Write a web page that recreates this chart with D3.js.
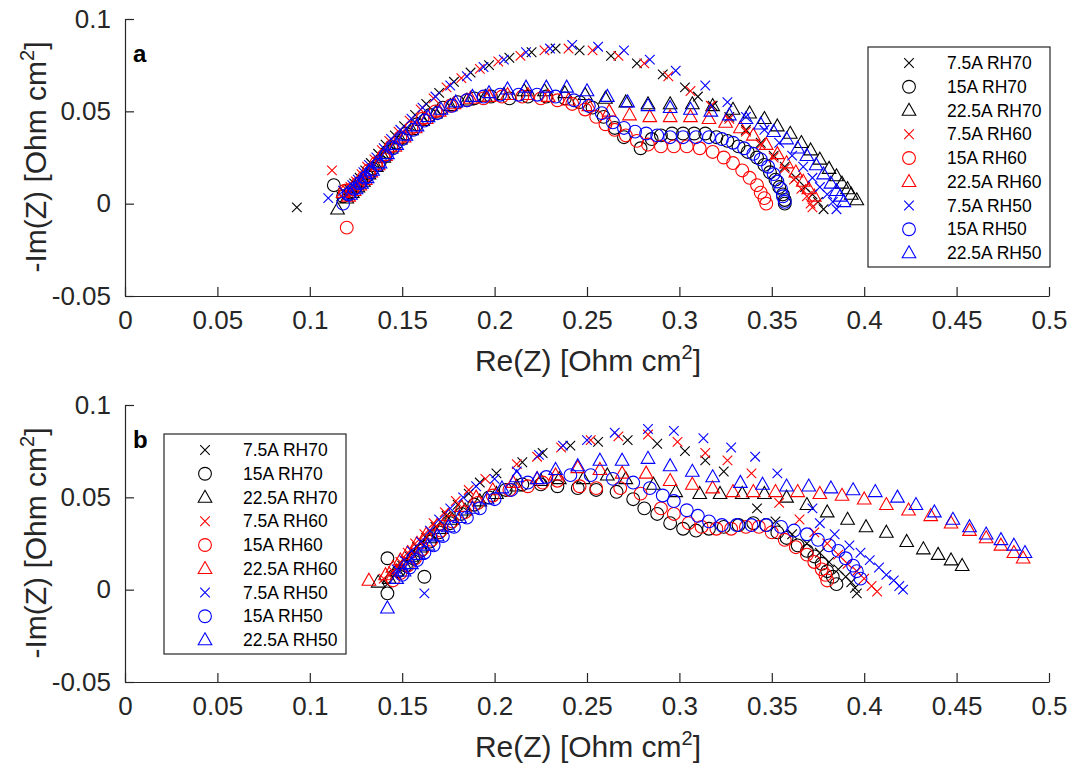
<!DOCTYPE html>
<html>
<head>
<meta charset="utf-8">
<script src="https://cdn.jsdelivr.net/npm/d3@7"></script>
<style>
  body { margin: 0; background: #fff; }
  text { font-family: "Liberation Sans", Arial, sans-serif; fill: #262626; }
</style>
</head>
<body>
<svg id="chart" width="1075" height="774"></svg>
<script>
// tick values and labels
const xTicks = [0, 0.05, 0.1, 0.15, 0.2, 0.25, 0.3, 0.35, 0.4, 0.45, 0.5];
const xTickLabels = ["0", "0.05", "0.1", "0.15", "0.2", "0.25", "0.3", "0.35", "0.4", "0.45", "0.5"];
const yTicks = [-0.05, 0, 0.05, 0.1];
const yTickLabels = ["-0.05", "0", "0.05", "0.1"];

// legend
const seriesNames = ["7.5A RH70", "15A RH70", "22.5A RH70", "7.5A RH60", "15A RH60", "22.5A RH60", "7.5A RH50", "15A RH50", "22.5A RH50"];
const seriesColors = ["#000000", "#000000", "#000000", "#ff0000", "#ff0000", "#ff0000", "#0000ff", "#0000ff", "#0000ff"];
const seriesShapes = ["x", "o", "t", "x", "o", "t", "x", "o", "t"];

// panel a : [Re(Z), -Im(Z)]
const aX70 = [[0.093,-0.002],[0.117,0.004],[0.121,0.008],[0.124,0.011],[0.127,0.014],[0.130,0.018],[0.133,0.022],[0.137,0.027],[0.141,0.032],[0.146,0.037],[0.151,0.042],[0.157,0.048],[0.163,0.054],[0.170,0.060],[0.178,0.066],[0.187,0.071],[0.197,0.075],[0.208,0.079],[0.220,0.082],[0.233,0.084],[0.246,0.083],[0.263,0.080],[0.277,0.076],[0.291,0.070],[0.303,0.063],[0.310,0.058],[0.318,0.053],[0.327,0.047],[0.336,0.040],[0.344,0.033],[0.351,0.026],[0.357,0.020],[0.363,0.014],[0.368,0.009],[0.372,0.005],[0.375,0.001],[0.378,-0.003]];
const aO70 = [[0.113,0.010],[0.118,0.004],[0.122,0.006],[0.125,0.009],[0.128,0.012],[0.131,0.015],[0.134,0.019],[0.138,0.023],[0.142,0.028],[0.147,0.033],[0.152,0.038],[0.158,0.043],[0.165,0.048],[0.172,0.052],[0.180,0.055],[0.189,0.057],[0.198,0.058],[0.208,0.057],[0.218,0.058],[0.228,0.058],[0.238,0.057],[0.246,0.055],[0.253,0.052],[0.259,0.047],[0.265,0.041],[0.270,0.036],[0.279,0.030],[0.285,0.035],[0.290,0.037],[0.296,0.038],[0.302,0.038],[0.308,0.038],[0.314,0.038],[0.320,0.036],[0.326,0.034],[0.332,0.031],[0.337,0.028],[0.342,0.025],[0.346,0.021],[0.349,0.017],[0.352,0.013],[0.354,0.009],[0.356,0.005],[0.357,0.002],[0.357,0.000]];
const aT70 = [[0.115,-0.003],[0.120,0.003],[0.123,0.006],[0.126,0.009],[0.129,0.012],[0.132,0.016],[0.136,0.020],[0.140,0.025],[0.144,0.030],[0.149,0.035],[0.155,0.040],[0.161,0.045],[0.168,0.049],[0.176,0.053],[0.185,0.056],[0.195,0.058],[0.205,0.059],[0.216,0.061],[0.227,0.061],[0.238,0.060],[0.249,0.059],[0.260,0.057],[0.271,0.055],[0.283,0.054],[0.295,0.054],[0.307,0.054],[0.318,0.053],[0.329,0.051],[0.338,0.049],[0.346,0.046],[0.353,0.042],[0.360,0.038],[0.366,0.033],[0.371,0.029],[0.376,0.024],[0.381,0.019],[0.385,0.015],[0.388,0.011],[0.391,0.008],[0.393,0.005],[0.396,0.002]];
const aX60 = [[0.112,0.018],[0.119,0.006],[0.122,0.009],[0.125,0.012],[0.128,0.016],[0.131,0.020],[0.135,0.024],[0.139,0.029],[0.143,0.034],[0.148,0.039],[0.154,0.045],[0.160,0.051],[0.167,0.057],[0.174,0.063],[0.182,0.068],[0.192,0.073],[0.202,0.077],[0.214,0.080],[0.227,0.083],[0.240,0.084],[0.253,0.083],[0.267,0.080],[0.281,0.076],[0.294,0.069],[0.306,0.061],[0.317,0.053],[0.327,0.046],[0.336,0.039],[0.344,0.032],[0.351,0.025],[0.357,0.019],[0.362,0.013],[0.366,0.008],[0.369,0.004],[0.371,0.000],[0.372,-0.002]];
const aO60 = [[0.120,-0.013],[0.119,0.007],[0.123,0.008],[0.126,0.011],[0.129,0.014],[0.132,0.018],[0.136,0.022],[0.140,0.026],[0.144,0.031],[0.149,0.036],[0.155,0.041],[0.161,0.046],[0.168,0.050],[0.176,0.053],[0.185,0.056],[0.194,0.057],[0.204,0.058],[0.215,0.058],[0.225,0.057],[0.234,0.056],[0.242,0.054],[0.249,0.051],[0.255,0.047],[0.260,0.043],[0.265,0.040],[0.271,0.037],[0.277,0.034],[0.283,0.032],[0.290,0.031],[0.297,0.031],[0.304,0.031],[0.311,0.030],[0.318,0.028],[0.324,0.025],[0.329,0.022],[0.334,0.018],[0.338,0.014],[0.342,0.010],[0.344,0.006],[0.346,0.003],[0.347,0.000]];
const aT60 = [[0.118,0.006],[0.121,0.004],[0.124,0.007],[0.127,0.010],[0.130,0.013],[0.133,0.017],[0.137,0.021],[0.141,0.026],[0.146,0.031],[0.151,0.036],[0.157,0.041],[0.163,0.046],[0.170,0.050],[0.178,0.054],[0.187,0.057],[0.197,0.058],[0.207,0.059],[0.218,0.059],[0.229,0.058],[0.240,0.056],[0.251,0.053],[0.262,0.050],[0.273,0.048],[0.284,0.047],[0.295,0.047],[0.306,0.047],[0.316,0.046],[0.325,0.044],[0.333,0.041],[0.340,0.037],[0.347,0.032],[0.353,0.027],[0.358,0.022],[0.363,0.017],[0.367,0.012],[0.370,0.008],[0.373,0.004]];
const aX50 = [[0.110,0.003],[0.118,0.007],[0.123,0.010],[0.126,0.013],[0.129,0.017],[0.132,0.021],[0.136,0.025],[0.140,0.030],[0.144,0.035],[0.149,0.040],[0.155,0.046],[0.161,0.052],[0.168,0.058],[0.176,0.064],[0.185,0.069],[0.194,0.074],[0.205,0.078],[0.217,0.082],[0.230,0.084],[0.242,0.086],[0.256,0.085],[0.270,0.083],[0.284,0.078],[0.298,0.072],[0.314,0.064],[0.326,0.055],[0.336,0.047],[0.346,0.040],[0.354,0.033],[0.361,0.026],[0.367,0.020],[0.372,0.014],[0.376,0.009],[0.380,0.005],[0.383,0.001],[0.385,-0.003]];
const aO50 = [[0.118,0.000],[0.121,0.005],[0.124,0.008],[0.127,0.011],[0.130,0.014],[0.133,0.017],[0.137,0.021],[0.141,0.026],[0.145,0.030],[0.150,0.035],[0.156,0.040],[0.162,0.045],[0.169,0.049],[0.177,0.053],[0.185,0.056],[0.194,0.058],[0.203,0.059],[0.213,0.059],[0.223,0.059],[0.233,0.058],[0.243,0.056],[0.251,0.053],[0.258,0.049],[0.264,0.044],[0.270,0.041],[0.276,0.039],[0.282,0.038],[0.288,0.037],[0.295,0.036],[0.302,0.036],[0.309,0.036],[0.316,0.036],[0.323,0.035],[0.329,0.033],[0.335,0.030],[0.340,0.027],[0.344,0.024],[0.348,0.020],[0.351,0.016],[0.353,0.012],[0.355,0.008],[0.356,0.004],[0.357,0.001]];
const aT50 = [[0.122,0.005],[0.125,0.008],[0.128,0.011],[0.131,0.014],[0.134,0.018],[0.138,0.022],[0.142,0.027],[0.147,0.032],[0.152,0.037],[0.158,0.042],[0.164,0.047],[0.171,0.051],[0.179,0.055],[0.188,0.058],[0.197,0.060],[0.207,0.062],[0.217,0.063],[0.228,0.063],[0.239,0.063],[0.250,0.061],[0.261,0.058],[0.272,0.055],[0.283,0.053],[0.295,0.052],[0.306,0.051],[0.317,0.050],[0.327,0.048],[0.336,0.046],[0.344,0.043],[0.351,0.039],[0.358,0.035],[0.364,0.030],[0.369,0.026],[0.374,0.021],[0.378,0.016],[0.382,0.011],[0.385,0.007],[0.387,0.004],[0.389,0.001]];

// panel b
const bX70 = [[0.142,0.003],[0.146,0.008],[0.150,0.013],[0.154,0.018],[0.158,0.023],[0.163,0.028],[0.168,0.034],[0.174,0.040],[0.180,0.046],[0.186,0.052],[0.192,0.058],[0.201,0.063],[0.215,0.069],[0.226,0.074],[0.241,0.078],[0.256,0.080],[0.272,0.081],[0.288,0.079],[0.303,0.075],[0.314,0.070],[0.324,0.064],[0.342,0.044],[0.352,0.037],[0.361,0.030],[0.369,0.025],[0.376,0.020],[0.381,0.015],[0.386,0.011],[0.390,0.007],[0.393,0.004],[0.395,0.001],[0.396,-0.002]];
const bO70 = [[0.142,0.017],[0.142,-0.002],[0.148,0.010],[0.152,0.013],[0.156,0.017],[0.160,0.021],[0.162,0.007],[0.165,0.026],[0.170,0.031],[0.176,0.036],[0.182,0.041],[0.189,0.046],[0.197,0.050],[0.206,0.054],[0.215,0.057],[0.225,0.057],[0.234,0.056],[0.245,0.055],[0.255,0.054],[0.266,0.053],[0.275,0.049],[0.281,0.044],[0.288,0.041],[0.295,0.036],[0.302,0.033],[0.309,0.032],[0.316,0.033],[0.324,0.034],[0.332,0.035],[0.340,0.036],[0.347,0.035],[0.353,0.031],[0.358,0.028],[0.364,0.024],[0.369,0.021],[0.373,0.018],[0.377,0.014],[0.380,0.010],[0.383,0.007],[0.385,0.003]];
const bT70 = [[0.137,0.004],[0.143,0.006],[0.147,0.010],[0.151,0.014],[0.155,0.018],[0.160,0.023],[0.165,0.028],[0.171,0.033],[0.177,0.038],[0.184,0.043],[0.192,0.048],[0.201,0.052],[0.212,0.056],[0.225,0.059],[0.235,0.060],[0.248,0.060],[0.261,0.062],[0.271,0.060],[0.286,0.057],[0.298,0.053],[0.311,0.052],[0.322,0.052],[0.334,0.052],[0.346,0.052],[0.358,0.050],[0.369,0.046],[0.380,0.042],[0.391,0.038],[0.401,0.034],[0.412,0.031],[0.423,0.026],[0.432,0.022],[0.440,0.019],[0.447,0.016],[0.453,0.013]];
const bX60 = [[0.140,0.006],[0.145,0.010],[0.149,0.015],[0.153,0.020],[0.157,0.025],[0.162,0.030],[0.167,0.036],[0.173,0.042],[0.179,0.048],[0.186,0.054],[0.195,0.060],[0.212,0.068],[0.223,0.072],[0.236,0.077],[0.252,0.081],[0.267,0.083],[0.283,0.084],[0.299,0.080],[0.314,0.074],[0.326,0.070],[0.339,0.063],[0.354,0.047],[0.365,0.038],[0.373,0.031],[0.380,0.025],[0.386,0.019],[0.391,0.014],[0.396,0.010],[0.400,0.006],[0.404,0.002],[0.407,-0.001]];
const bO60 = [[0.145,0.005],[0.149,0.009],[0.153,0.013],[0.157,0.017],[0.161,0.022],[0.166,0.027],[0.171,0.032],[0.177,0.037],[0.184,0.042],[0.191,0.047],[0.199,0.051],[0.208,0.054],[0.218,0.056],[0.226,0.058],[0.234,0.059],[0.246,0.056],[0.255,0.055],[0.268,0.055],[0.279,0.052],[0.290,0.044],[0.297,0.041],[0.305,0.036],[0.312,0.034],[0.320,0.033],[0.328,0.033],[0.336,0.034],[0.343,0.034],[0.350,0.031],[0.357,0.027],[0.363,0.023],[0.369,0.019],[0.373,0.015],[0.377,0.011],[0.379,0.008],[0.380,0.005]];
const bT60 = [[0.132,0.005],[0.141,0.008],[0.145,0.012],[0.149,0.016],[0.153,0.020],[0.158,0.025],[0.163,0.030],[0.169,0.035],[0.175,0.040],[0.182,0.045],[0.190,0.050],[0.199,0.054],[0.210,0.058],[0.223,0.060],[0.233,0.062],[0.245,0.066],[0.257,0.065],[0.269,0.063],[0.282,0.063],[0.295,0.059],[0.307,0.057],[0.318,0.055],[0.329,0.053],[0.340,0.053],[0.352,0.053],[0.364,0.053],[0.376,0.052],[0.388,0.051],[0.400,0.049],[0.412,0.046],[0.424,0.043],[0.436,0.040],[0.447,0.036],[0.457,0.032],[0.466,0.028],[0.474,0.024],[0.481,0.020],[0.486,0.017]];
const bX50 = [[0.162,-0.002],[0.147,0.011],[0.151,0.016],[0.155,0.021],[0.160,0.026],[0.165,0.032],[0.170,0.038],[0.176,0.044],[0.183,0.050],[0.190,0.056],[0.200,0.060],[0.212,0.064],[0.224,0.073],[0.237,0.078],[0.250,0.081],[0.265,0.085],[0.283,0.087],[0.297,0.086],[0.313,0.082],[0.328,0.077],[0.341,0.072],[0.353,0.063],[0.372,0.044],[0.376,0.036],[0.384,0.030],[0.392,0.024],[0.398,0.020],[0.403,0.016],[0.408,0.012],[0.412,0.008],[0.416,0.005],[0.419,0.002],[0.421,0.000]];
const bO50 = [[0.150,0.008],[0.154,0.012],[0.158,0.016],[0.162,0.020],[0.167,0.024],[0.172,0.029],[0.178,0.034],[0.185,0.039],[0.192,0.044],[0.200,0.049],[0.209,0.054],[0.218,0.058],[0.228,0.061],[0.241,0.062],[0.252,0.062],[0.264,0.060],[0.275,0.058],[0.284,0.055],[0.291,0.051],[0.297,0.048],[0.304,0.043],[0.310,0.040],[0.316,0.037],[0.323,0.035],[0.331,0.035],[0.339,0.035],[0.347,0.035],[0.355,0.034],[0.362,0.032],[0.369,0.030],[0.375,0.027],[0.381,0.024],[0.386,0.021],[0.390,0.017],[0.394,0.013],[0.396,0.010],[0.398,0.006]];
const bT50 = [[0.142,-0.010],[0.147,0.006],[0.151,0.010],[0.155,0.014],[0.159,0.019],[0.164,0.024],[0.169,0.029],[0.175,0.034],[0.181,0.039],[0.188,0.044],[0.196,0.049],[0.204,0.055],[0.212,0.061],[0.223,0.060],[0.233,0.065],[0.245,0.067],[0.257,0.070],[0.269,0.070],[0.283,0.071],[0.295,0.067],[0.307,0.064],[0.318,0.061],[0.333,0.058],[0.345,0.057],[0.358,0.056],[0.370,0.056],[0.382,0.055],[0.394,0.054],[0.406,0.053],[0.418,0.050],[0.428,0.046],[0.438,0.042],[0.448,0.038],[0.457,0.034],[0.466,0.030],[0.474,0.027],[0.481,0.024],[0.487,0.020]];

const panelA = [aX70, aO70, aT70, aX60, aO60, aT60, aX50, aO50, aT50];
const panelB = [bX70, bO70, bT70, bX60, bO60, bT60, bX50, bO50, bT50];

const svg = d3.select("#chart");
const axisColor = "#262626";

const markerPath = {
  x: "M-4.8,-4.8L4.8,4.8M-4.8,4.8L4.8,-4.8",
  t: "M0,-7.2L6.8,4.8L-6.8,4.8Z"
};

function drawMarker(sel, shape, color) {
  if (shape === "o") {
    sel.append("circle").attr("r", 6.4)
      .attr("fill", "none").attr("stroke", color).attr("stroke-width", 1.1);
  } else {
    sel.append("path").attr("d", markerPath[shape])
      .attr("fill", "none").attr("stroke", color).attr("stroke-width", 1.1);
  }
}

function drawPanel(series, top, letter, legendPos) {
  const x = d3.scaleLinear().domain([0, 0.5]).range([125, 1049]);
  const y = d3.scaleLinear().domain([-0.05, 0.1]).range([top + 277, top]);
  const g = svg.append("g");

  // axes (ticks inside, no box)
  const xAxis = d3.axisBottom(x).tickValues(xTicks)
    .tickFormat((d, i) => xTickLabels[i]).tickSizeInner(-9).tickSizeOuter(0).tickPadding(15);
  const yAxis = d3.axisLeft(y).tickValues(yTicks)
    .tickFormat((d, i) => yTickLabels[i]).tickSizeInner(-9).tickSizeOuter(0).tickPadding(14);

  const gx = g.append("g").attr("transform", `translate(0,${top + 277})`).call(xAxis);
  const gy = g.append("g").attr("transform", "translate(125,0)").call(yAxis);
  [gx, gy].forEach(a => {
    a.select(".domain").attr("stroke", axisColor).attr("stroke-width", 1.2);
    a.selectAll(".tick line").attr("stroke", axisColor).attr("stroke-width", 1.2);
    a.selectAll(".tick text").attr("fill", axisColor)
      .style("font-size", "26px").style("font-family", '"Liberation Sans", Arial, sans-serif');
  });

  // axis titles
  const xt = g.append("text").attr("x", 588).attr("y", top + 352)
    .attr("text-anchor", "middle").style("font-size", "30px");
  xt.append("tspan").text("Re(Z) [Ohm cm");
  xt.append("tspan").attr("dy", -12).style("font-size", "20px").text("2");
  xt.append("tspan").attr("dy", 12).text("]");

  const yt = g.append("text")
    .attr("transform", `translate(46,${top + 138}) rotate(-90)`)
    .attr("text-anchor", "middle").style("font-size", "30px");
  yt.append("tspan").text("-Im(Z) [Ohm cm");
  yt.append("tspan").attr("dy", -12).style("font-size", "20px").text("2");
  yt.append("tspan").attr("dy", 12).text("]");

  // panel letter
  g.append("text").attr("x", 133).attr("y", top + 43)
    .style("font-size", "24px").style("font-weight", "bold").style("fill", "#000").text(letter);

  // data
  series.forEach((pts, si) => {
    const sg = g.append("g");
    pts.forEach(p => {
      const m = sg.append("g").attr("transform", `translate(${x(p[0])},${y(p[1])})`);
      drawMarker(m, seriesShapes[si], seriesColors[si]);
    });
  });

  // legend
  const lg = g.append("g").attr("transform", `translate(${legendPos[0]},${legendPos[1]})`);
  lg.append("rect").attr("width", 182).attr("height", 220)
    .attr("fill", "#fff").attr("stroke", axisColor).attr("stroke-width", 1.2);
  seriesNames.forEach((name, i) => {
    const ry = 16 + i * 23.75;
    const m = lg.append("g").attr("transform", `translate(41,${ry})`);
    drawMarker(m, seriesShapes[i], seriesColors[i]);
    lg.append("text").attr("x", 79).attr("y", ry + 6)
      .style("font-size", "17.5px").style("fill", "#000").text(name);
  });
}

drawPanel(panelA, 19, "a", [868, 47]);
drawPanel(panelB, 405, "b", [164, 434]);
</script>
</body>
</html>
